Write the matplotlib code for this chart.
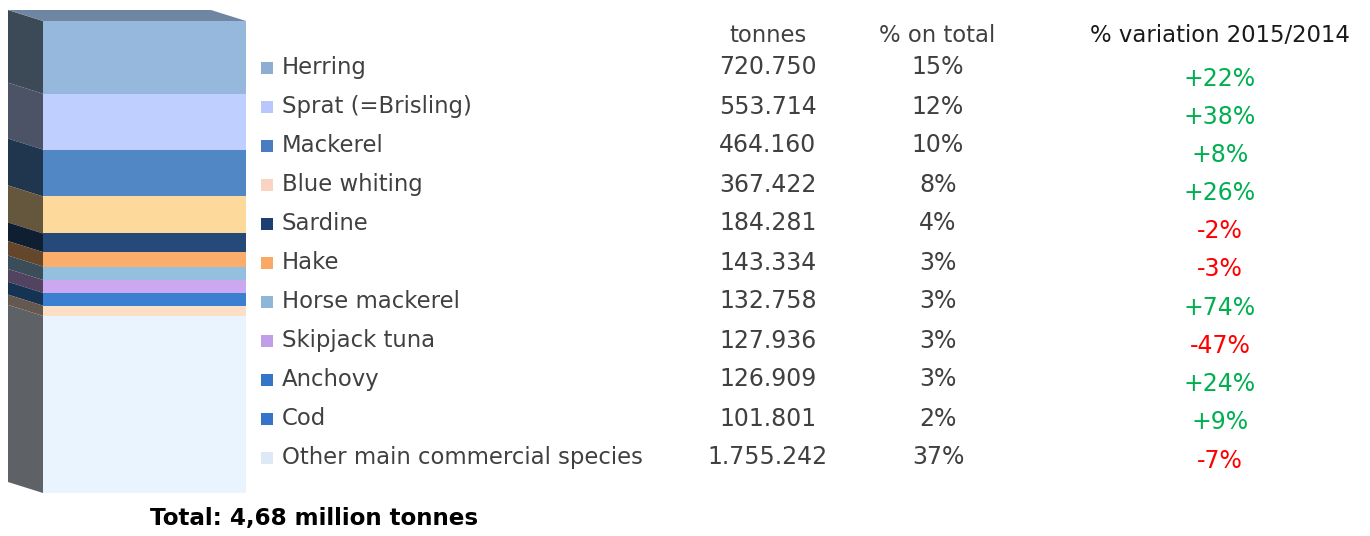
import matplotlib
matplotlib.use("Agg")
import matplotlib.pyplot as plt
from matplotlib.patches import Polygon, Rectangle
import matplotlib.colors as mcolors
import numpy as np

# ---------------- data ----------------
species = ["Herring", "Sprat (=Brisling)", "Mackerel", "Blue whiting", "Sardine",
           "Hake", "Horse mackerel", "Skipjack tuna", "Anchovy", "Cod",
           "Other main commercial species"]
tonnes = [720750, 553714, 464160, 367422, 184281, 143334, 132758, 127936,
          126909, 101801, 1755242]
tonnes_labels = ["720.750", "553.714", "464.160", "367.422", "184.281", "143.334",
                 "132.758", "127.936", "126.909", "101.801", "1.755.242"]
pct_total = ["15%", "12%", "10%", "8%", "4%", "3%", "3%", "3%", "3%", "2%", "37%"]
variation = ["+22%", "+38%", "+8%", "+26%", "-2%", "-3%", "+74%", "-47%",
             "+24%", "+9%", "-7%"]
headers = ["tonnes", "% on total", "% variation 2015/2014"]
total_label = "Total: 4,68 million tonnes"

bar_colors = ["#97b8dd", "#bfcfff", "#5187c5", "#fdd99c", "#254a7a", "#fbae6b",
              "#94c0df", "#cca8f1", "#3a7fd0", "#fddfc6", "#eaf4ff"]
legend_colors = ["#8eadd3", "#b8c8ff", "#4a7cc0", "#fad4c0", "#1f3f6e", "#f9a866",
                 "#8fb6d6", "#c39ee8", "#3475c9", "#3475c9", "#dfe8f5"]

W, H = 1370, 536
fig = plt.figure(figsize=(W / 100, H / 100), dpi=100)
fig.patch.set_facecolor("white")

# ---------------- stacked 3D-look column ----------------
bx0, bx1, by0, by1 = 43, 246, 21, 493
axb = fig.add_axes([bx0 / W, 1 - by1 / H, (bx1 - bx0) / W, (by1 - by0) / H])
total = float(np.sum(tonnes))
bottoms = np.concatenate([[0], np.cumsum(tonnes)[:-1]])
axb.bar(0, tonnes, bottom=bottoms, width=1.0, color=bar_colors, linewidth=0)
axb.set_xlim(-0.5, 0.5)
axb.set_ylim(total, 0)
axb.axis("off")

depth_x = 35 / (bx1 - bx0)          # data units along x
depth_y = 11 / (by1 - by0) * total  # data units along y

def shade(c, f):
    r, g, b = mcolors.to_rgb(c)
    return (r * f, g * f, b * f)

for v, b0, c in zip(tonnes, bottoms, bar_colors):
    y0, y1 = b0, b0 + v
    poly = Polygon([(-0.5, y0), (-0.5, y1), (-0.5 - depth_x, y1 - depth_y),
                    (-0.5 - depth_x, y0 - depth_y)], closed=True,
                   facecolor=shade(c, 0.40), edgecolor="none", clip_on=False)
    axb.add_patch(poly)
top = Polygon([(-0.5, 0), (0.5, 0), (0.5 - depth_x, -depth_y), (-0.5 - depth_x, -depth_y)],
              closed=True, facecolor=shade(bar_colors[0], 0.73), edgecolor="none",
              clip_on=False)
axb.add_patch(top)

# ---------------- table / legend overlay ----------------
ax = fig.add_axes([0, 0, 1, 1])
ax.set_xlim(0, W)
ax.set_ylim(H, 0)
ax.axis("off")

FONT = "DejaVu Sans"
fs = 16.4
fs_num = 17.0
txt = "#404040"

row0, drow = 67.5, 39.0
var0, dvar = 78.5, 38.2
for i, (sp, tl, pc, vr, lc) in enumerate(zip(species, tonnes_labels, pct_total,
                                              variation, legend_colors)):
    y = row0 + i * drow
    ax.add_patch(Rectangle((261, y - 6), 12, 12, facecolor=lc, edgecolor="none"))
    ax.text(282, y, sp, ha="left", va="center", fontsize=fs, color=txt, family=FONT)
    ax.text(768, y, tl, ha="center", va="center", fontsize=fs_num, color=txt, family=FONT)
    ax.text(938, y, pc, ha="center", va="center", fontsize=fs_num, color=txt, family=FONT)
    col = "#00b050" if vr.startswith("+") else "#ff0000"
    ax.text(1220, var0 + i * dvar, vr, ha="center", va="center", fontsize=fs_num,
            color=col, family=FONT)

for hx, htxt, hc in zip([768, 937, 1220], headers, [txt, txt, "#1a1a1a"]):
    ax.text(hx, 35, htxt, ha="center", va="center", fontsize=fs, color=hc, family=FONT)

ax.text(314, 518, total_label, ha="center", va="center", fontsize=16.6,
        fontweight="bold", color="black", family=FONT)

fig.savefig("out.png", dpi=100, facecolor="white")
